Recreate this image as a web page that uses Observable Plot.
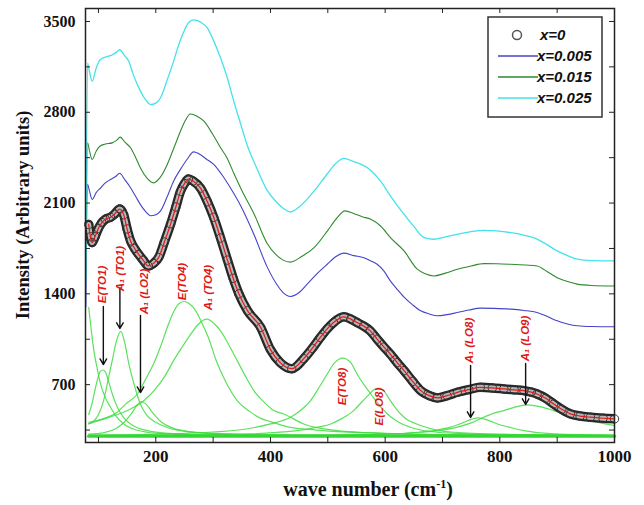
<!DOCTYPE html>
<html><head><meta charset="utf-8">
<script src="https://cdn.jsdelivr.net/npm/d3@7"></script>
<script src="https://cdn.jsdelivr.net/npm/@observablehq/plot@0.6"></script>
<style>body{margin:0;background:#fff} svg{display:block}</style>
</head><body><div id="chart"></div>
<script>
// ---- measured spectra ----
const x0Wave = [83, 86, 89, 94, 100, 106, 112, 121, 128, 137, 144, 150, 156, 163, 170, 178, 187, 196, 205, 215, 226, 235, 243, 250, 257, 265, 278, 290, 301, 313, 325, 335, 345, 360, 383, 400, 417, 437, 458, 473, 487, 499, 510, 528, 540, 551, 563, 574, 586, 598, 609, 621, 633, 648, 662, 677, 691, 708, 726, 746, 766, 787, 807, 825, 842, 855, 865, 880, 894, 908, 923, 940, 958, 980, 1000];
const x0Int  = [1935, 1840, 1795, 1840, 1905, 1950, 1975, 1990, 2015, 2054, 2010, 1900, 1808, 1750, 1705, 1660, 1615, 1635, 1680, 1800, 1940, 2070, 2190, 2250, 2285, 2270, 2215, 2110, 1990, 1830, 1660, 1520, 1400, 1270, 1141, 970, 870, 823, 900, 980, 1064, 1130, 1179, 1223, 1205, 1179, 1150, 1115, 1051, 990, 936, 870, 808, 725, 654, 615, 598, 615, 641, 662, 679, 675, 667, 660, 654, 642, 628, 595, 551, 510, 475, 458, 449, 441, 436];

const x005Wave = [78, 81, 84, 89, 96, 104, 112, 121, 130, 137, 146, 156, 165, 173, 182, 191, 200, 208, 220, 231, 243, 255, 266, 275, 288, 301, 315, 330, 348, 371, 394, 410, 422, 435, 450, 464, 480, 499, 515, 528, 545, 563, 575, 586, 598, 609, 621, 633, 648, 662, 677, 691, 708, 726, 746, 766, 790, 819, 842, 865, 883, 900, 918, 935, 960, 1000];
const x005Int  = [1300, 2244, 2200, 2128, 2180, 2218, 2255, 2282, 2305, 2330, 2280, 2218, 2150, 2090, 2035, 2002, 2010, 2038, 2150, 2269, 2360, 2440, 2495, 2480, 2440, 2398, 2320, 2218, 2080, 1860, 1610, 1480, 1410, 1380, 1410, 1475, 1550, 1628, 1690, 1714, 1695, 1679, 1654, 1628, 1575, 1500, 1435, 1375, 1315, 1269, 1245, 1231, 1240, 1256, 1275, 1290, 1288, 1282, 1272, 1256, 1225, 1192, 1168, 1154, 1148, 1146];

const x015Wave = [78, 81, 84, 89, 96, 103, 112, 124, 132, 138, 146, 156, 165, 173, 185, 196, 208, 220, 232, 243, 252, 260, 272, 284, 298, 313, 324, 336, 352, 371, 394, 410, 422, 435, 455, 476, 500, 515, 530, 545, 560, 575, 592, 610, 633, 656, 670, 685, 705, 726, 750, 772, 795, 819, 845, 865, 883, 900, 918, 935, 960, 1000];
const x015Int  = [1500, 2564, 2510, 2436, 2500, 2540, 2555, 2564, 2585, 2608, 2570, 2526, 2450, 2372, 2290, 2256, 2300, 2398, 2530, 2654, 2740, 2787, 2770, 2731, 2640, 2526, 2450, 2330, 2180, 2020, 1790, 1700, 1660, 1645, 1690, 1756, 1890, 1980, 2040, 2020, 1995, 1975, 1923, 1830, 1731, 1590, 1555, 1538, 1560, 1590, 1615, 1633, 1632, 1628, 1622, 1615, 1570, 1525, 1495, 1475, 1465, 1461];

const x025Wave = [78, 81, 84, 89, 96, 103, 112, 124, 131, 137, 145, 153, 160, 168, 180, 191, 200, 208, 220, 231, 240, 249, 257, 266, 278, 290, 300, 313, 325, 336, 348, 359, 376, 394, 410, 422, 435, 450, 466, 476, 500, 515, 528, 545, 560, 569, 580, 592, 610, 633, 650, 668, 685, 705, 726, 750, 772, 795, 819, 840, 859, 880, 900, 918, 935, 960, 1000];
const x025Int  = [1500, 3179, 3120, 3038, 3140, 3205, 3225, 3243, 3262, 3282, 3240, 3192, 3100, 3013, 2910, 2859, 2870, 2910, 3050, 3192, 3320, 3423, 3490, 3513, 3495, 3449, 3360, 3218, 3060, 2885, 2710, 2551, 2370, 2200, 2110, 2060, 2031, 2070, 2140, 2192, 2330, 2410, 2444, 2420, 2395, 2372, 2330, 2269, 2150, 2013, 1920, 1833, 1821, 1840, 1859, 1880, 1890, 1885, 1872, 1855, 1833, 1785, 1731, 1695, 1667, 1656, 1654];

// ---- fitted components (x = 0) ----
const p0X = [83, 88, 92, 98, 104, 112, 121, 132, 144, 160, 185, 220, 280, 400, 600, 1000];
const p0Y = [1295, 1100, 962, 820, 700, 600, 526, 450, 397, 360, 333, 320, 312, 308, 306, 305];
const eTO1X = [83, 88, 93, 98, 103, 108, 113, 118, 124, 133, 145, 160, 185, 230, 300, 450, 700, 1000];
const eTO1Y = [470, 540, 640, 735, 800, 813, 790, 720, 630, 526, 440, 385, 346, 322, 313, 308, 306, 305];
const a1TO1X = [83, 92, 100, 109, 117, 124, 131, 139, 146, 153, 162, 173, 185, 200, 220, 250, 300, 400, 600, 1000];
const a1TO1Y = [397, 420, 470, 577, 740, 885, 1030, 1110, 1020, 860, 705, 551, 461, 410, 370, 340, 322, 312, 307, 305];
const a1LO2X = [83, 110, 130, 145, 158, 168, 175, 183, 195, 210, 230, 260, 320, 450, 700, 1000];
const a1LO2Y = [318, 330, 360, 410, 480, 545, 570, 550, 480, 410, 365, 338, 320, 310, 306, 305];
const eTO4X = [83, 110, 130, 150, 168, 182, 196, 208, 220, 232, 242, 250, 258, 268, 280, 292, 305, 320, 342, 365, 383, 400, 430, 480, 560, 700, 1000];
const eTO4Y = [410, 440, 480, 560, 628, 740, 859, 990, 1141, 1270, 1330, 1341, 1325, 1280, 1180, 1060, 890, 740, 577, 490, 440, 415, 375, 350, 330, 315, 308];
const a1TO4X = [83, 120, 156, 180, 197, 215, 231, 246, 261, 275, 289, 302, 313, 327, 342, 357, 371, 390, 406, 423, 458, 516, 600, 750, 1000];
const a1TO4Y = [400, 450, 513, 580, 654, 760, 885, 990, 1090, 1170, 1205, 1170, 1115, 1010, 885, 760, 654, 560, 500, 474, 397, 346, 325, 312, 307];
const eTO8X = [83, 200, 300, 360, 400, 435, 455, 470, 485, 499, 512, 526, 540, 551, 563, 575, 590, 604, 620, 644, 691, 750, 850, 1000];
const eTO8Y = [310, 318, 335, 360, 397, 449, 510, 577, 680, 782, 870, 905, 870, 782, 700, 628, 540, 474, 420, 372, 333, 320, 312, 308];
const eLO8X = [83, 300, 447, 480, 505, 525, 545, 560, 570, 580, 589, 598, 609, 620, 633, 662, 690, 720, 800, 1000];
const eLO8Y = [305, 312, 346, 370, 397, 440, 500, 570, 615, 660, 674, 650, 577, 510, 449, 385, 350, 333, 318, 308];
const a1LO8X = [83, 500, 600, 656, 690, 714, 735, 750, 763, 780, 796, 820, 842, 894, 1000];
const a1LO8Y = [305, 310, 318, 333, 350, 372, 405, 432, 444, 425, 397, 368, 346, 320, 310];
const a1LO9X = [83, 500, 600, 662, 700, 726, 750, 772, 790, 807, 825, 848, 870, 894, 915, 935, 965, 1000];
const a1LO9Y = [305, 312, 318, 333, 350, 372, 405, 449, 480, 500, 525, 544, 530, 500, 470, 449, 415, 385];
const baseX = [83, 1000];
const baseY = [303, 303];

// ---- annotations ----
const annoLabels = ["E(TO1)", "A\u2081 (TO1)", "A\u2081 (LO2)", "E(TO4)", "A\u2081 (TO4)", "E(TO8)", "E(LO8)", "A\u2081 (LO8)", "A\u2081 (LO9)"];
const annoX = [106.5, 137.4, 180.4, 247, 292, 525, 589, 746, 845];
const annoY = [1472, 1595, 1418, 1495, 1449, 686, 531, 1040, 1056];
const arrowX  = [108.5, 137.4, 173.3, 749, 845];
const arrowY1 = [1302, 1449, 1233, 848, 863];
const arrowY2 = [855, 1133, 639, 447, 547];

// ---- axes ----
const xMajor = [200, 400, 600, 800, 1000];
const xMinor = [100, 300, 500, 700, 900];
const yMajor = [700, 1400, 2100, 2800, 3500];
const yMinor = [350, 1050, 1750, 2450, 3150];

const seriesNames = ["x=0", "x=0.005", "x=0.015", "x=0.025"];
const seriesColors = ["#333333", "#4444c8", "#2f8a2f", "#44e2ea"];

const rows = (xs, ys) => xs.map((x, i) => ({x, y: ys[i]}));
const peaks = [[p0X,p0Y],[eTO1X,eTO1Y],[a1TO1X,a1TO1Y],[a1LO2X,a1LO2Y],[eTO4X,eTO4Y],[a1TO4X,a1TO4Y],[eTO8X,eTO8Y],[eLO8X,eLO8Y],[a1LO8X,a1LO8Y],[a1LO9X,a1LO9Y]];
const x0Rows = rows(x0Wave, x0Int);
const annoRows = annoLabels.map((t, i) => ({t, x: annoX[i], y: annoY[i]}));
const arrowRows = arrowX.map((x, i) => ({x, y1: arrowY1[i], y2: arrowY2[i]}));

const W = 644, H = 505, ML = 85, MR = 30, MT = 8, MB = 63;
const IW = W - ML - MR, IH = H - MT - MB;
const TL = 5;

const chart = Plot.plot({
  width: W, height: H,
  marginLeft: ML, marginRight: MR, marginTop: MT, marginBottom: MB,
  style: {fontFamily: "Liberation Serif", background: "white", overflow: "visible"},
  x: {domain: [77.4, 1000]},
  y: {domain: [254, 3600]},
  marks: [
    ...peaks.map(([xs, ys]) => Plot.line(rows(xs, ys), {x: "x", y: "y", stroke: "#3fdc3f", strokeWidth: 1.2, strokeOpacity: 0.85, curve: "monotone-x", clip: true})),
    Plot.line(rows(baseX, baseY), {x: "x", y: "y", stroke: "#33d633", strokeWidth: 3.2}),
    Plot.line(rows(x005Wave, x005Int), {x: "x", y: "y", stroke: seriesColors[1], strokeWidth: 1.1, curve: "monotone-x", clip: true}),
    Plot.line(rows(x015Wave, x015Int), {x: "x", y: "y", stroke: seriesColors[2], strokeWidth: 1.1, curve: "monotone-x", clip: true}),
    Plot.line(rows(x025Wave, x025Int), {x: "x", y: "y", stroke: seriesColors[3], strokeWidth: 1.3, curve: "monotone-x", clip: true}),
    Plot.line(x0Rows, {x: "x", y: "y", stroke: "#262626", strokeWidth: 9.5, curve: "monotone-x", clip: true}),
    Plot.line(x0Rows, {x: "x", y: "y", stroke: "#b8b8b8", strokeWidth: 5, curve: "monotone-x", clip: true}),
    Plot.dot(x0Rows, {x: "x", y: "y", r: 4.2, stroke: "#333", strokeWidth: 1, fill: "none"}),
    Plot.line(x0Rows, {x: "x", y: "y", stroke: "#e21b1b", strokeWidth: 1.2, curve: "monotone-x", clip: true}),
    Plot.arrow(arrowRows, {x1: "x", x2: "x", y1: "y1", y2: "y2", stroke: "#111", strokeWidth: 1.4, headLength: 7}),
    Plot.text(annoRows, {x: "x", y: "y", text: "t", rotate: -90, fill: "#e01818", fontSize: 11.5, fontWeight: "bold", fontStyle: "italic", fontFamily: "Liberation Sans"}),
    Plot.ruleX([...xMajor, ...xMinor], {insetTop: IH - TL, stroke: "#222"}),
    Plot.ruleX([...xMajor, ...xMinor], {insetBottom: IH - TL, stroke: "#222"}),
    Plot.ruleY([...yMajor, ...yMinor], {insetRight: IW - TL, stroke: "#222"}),
    Plot.ruleY([...yMajor, ...yMinor], {insetLeft: IW - TL, stroke: "#222"}),
    Plot.frame({stroke: "#222", strokeWidth: 1.5}),
    Plot.axisX({ticks: xMajor, tickSize: 0, tickPadding: 7, tickFormat: d3.format("d"), label: null, fontSize: 17, fontWeight: "bold", fontFamily: "Liberation Serif", fill: "#111"}),
    Plot.axisY({ticks: yMajor, tickSize: 0, tickPadding: 10, tickFormat: d3.format("d"), label: null, fontSize: 16, fontWeight: "bold", fontFamily: "Liberation Serif", fill: "#111"})
  ]
});

const svg = d3.select(chart);
// axis titles
svg.append("text")
  .attr("transform", "translate(29,215) rotate(-90)")
  .attr("text-anchor", "middle")
  .attr("font-family", "Liberation Serif").attr("font-weight", "bold").attr("font-size", 18.5).attr("fill", "#111")
  .text("Intensity (Arbitrary units)");
const xt = svg.append("text")
  .attr("x", 368).attr("y", 496).attr("text-anchor", "middle")
  .attr("font-family", "Liberation Serif").attr("font-weight", "bold").attr("font-size", 20).attr("fill", "#111");
xt.append("tspan").text("wave number (cm");
xt.append("tspan").attr("dy", -8).attr("font-size", 12).text("-1");
xt.append("tspan").attr("dy", 8).text(")");

// legend
const lg = svg.append("g").attr("text-anchor", "start");
lg.append("rect").attr("x", 488).attr("y", 17).attr("width", 114).attr("height", 100)
  .attr("fill", "white").attr("stroke", "#333").attr("stroke-width", 1.5);
const ly = [35, 56, 77, 98];
seriesNames.forEach((name, i) => {
  if (i === 0) {
    lg.append("circle").attr("cx", 517).attr("cy", ly[i]).attr("r", 4.5).attr("fill", "none").attr("stroke", "#555").attr("stroke-width", 1.5);
  } else {
    lg.append("line").attr("x1", 498).attr("x2", 538).attr("y1", ly[i]).attr("y2", ly[i]).attr("stroke", seriesColors[i]).attr("stroke-width", 1.3);
  }
  lg.append("text").attr("x", i === 0 ? 540 : 537).attr("y", ly[i]).attr("dy", "0.35em").attr("text-anchor", "start")
    .attr("font-family", "Liberation Sans").attr("font-weight", "bold").attr("font-style", "italic").attr("font-size", 15).attr("fill", "#111")
    .text(name);
});

document.getElementById("chart").appendChild(chart);
</script>
</body></html>
